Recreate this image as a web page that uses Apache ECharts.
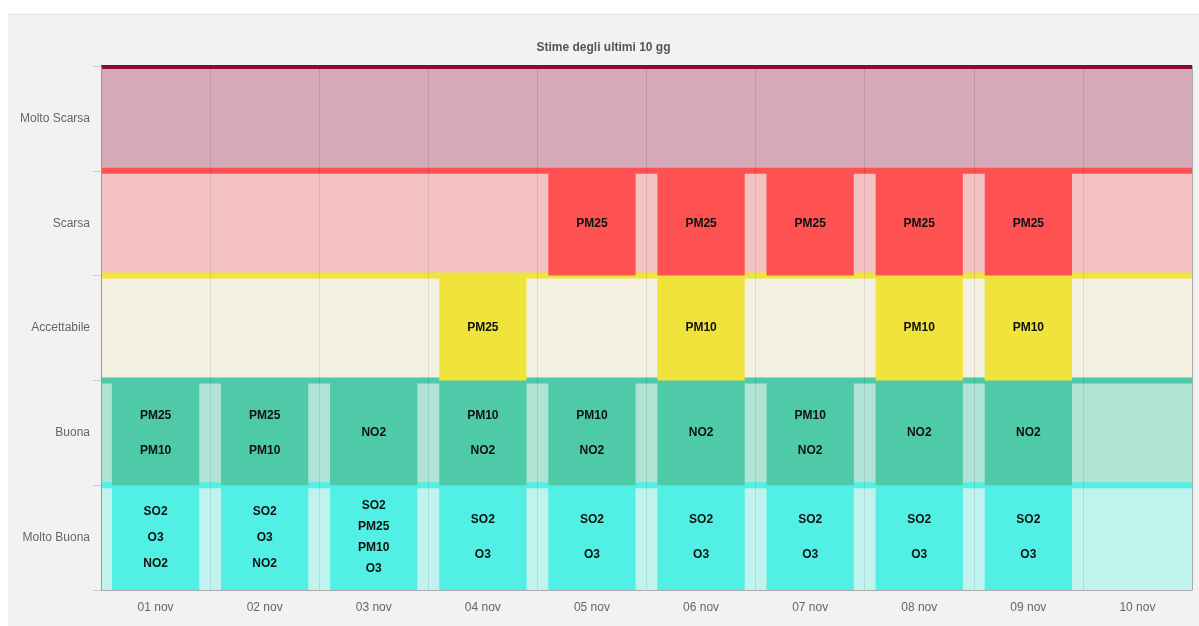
<!DOCTYPE html>
<html>
<head>
<meta charset="utf-8">
<title>Stime degli ultimi 10 gg</title>
<script src="https://cdn.jsdelivr.net/npm/echarts@6/dist/echarts.min.js"></script>
<style>
  html, body { margin: 0; padding: 0; background: #fff; }
  #panel {
    position: absolute; left: 8px; top: 14px;
    width: 1191px; height: 612px;
    background: #f2f2f2; border-top: 1px solid #e4e4e4;
  }
  #chart { width: 1191px; height: 611px; }
</style>
</head>
<body>
<div id="panel"><div id="chart"></div></div>
<script>
var days = ['01 nov', '02 nov', '03 nov', '04 nov', '05 nov', '06 nov', '07 nov', '08 nov', '09 nov', '10 nov'];
var levels = ['Molto Buona', 'Buona', 'Accettabile', 'Scarsa', 'Molto Scarsa'];

// pollutants falling in each level, one list per day (empty = none)
var moltoBuona = [['SO2', 'O3', 'NO2'], ['SO2', 'O3', 'NO2'], ['SO2', 'PM25', 'PM10', 'O3'], ['SO2', 'O3'], ['SO2', 'O3'],
                  ['SO2', 'O3'], ['SO2', 'O3'], ['SO2', 'O3'], ['SO2', 'O3'], []];
var buona = [['PM25', 'PM10'], ['PM25', 'PM10'], ['NO2'], ['PM10', 'NO2'], ['PM10', 'NO2'],
             ['NO2'], ['PM10', 'NO2'], ['NO2'], ['NO2'], []];
var accettabile = [[], [], [], ['PM25'], [], ['PM10'], [], ['PM10'], ['PM10'], []];
var scarsa = [[], [], [], [], ['PM25'], ['PM25'], ['PM25'], ['PM25'], ['PM25'], []];
var moltoScarsa = [[], [], [], [], [], [], [], [], [], []];

var strong = ['#52f0e4', '#4fcaa8', '#efe33c', '#fe5252', '#8c0a3a'];
var light = ['#c0f2ee', '#b0e3d4', '#f3f0e2', '#f4c2c3', '#d5a9b7'];

var byLevel = [moltoBuona, buona, accettabile, scarsa, moltoScarsa];
var cells = [];
byLevel.forEach(function (arr, lv) {
  arr.forEach(function (list, d) {
    if (list.length) cells.push({ value: [d, lv], names: list });
  });
});

// draw from the top level down so each band's line sits over the band above
var bands = levels.map(function (l, i) { return [0, levels.length - 1 - i]; });

function renderBand(params, api) {
  var lv = api.value(1);
  var c = api.coord([0, lv]);
  var h = api.size([0, 1])[1];
  var cs = params.coordSys;
  var top = c[1] - h / 2;
  var lineTop = Math.max(top - 3, cs.y - 1);
  return {
    type: 'group',
    children: [
      { type: 'rect', shape: { x: cs.x, y: top, width: cs.width, height: h }, style: { fill: light[lv] } },
      { type: 'rect', shape: { x: cs.x, y: lineTop, width: cs.width, height: top + 3 - lineTop }, style: { fill: strong[lv] } }
    ]
  };
}

function renderCell(params, api) {
  var d = api.value(0), lv = api.value(1);
  var c = api.coord([d, lv]);
  var s = api.size([1, 1]);
  var w = s[0] * 0.8, h = s[1];
  var top = c[1] - h / 2;
  var names = cells[params.dataIndex].names;
  var children = [
    { type: 'rect', shape: { x: c[0] - w / 2, y: top, width: w, height: h }, style: { fill: strong[lv] } }
  ];
  names.forEach(function (n, i) {
    children.push({
      type: 'text',
      style: {
        text: n, x: c[0], y: top + (i + 1) * h / (names.length + 1),
        align: 'center', verticalAlign: 'middle', fill: '#111',
        font: 'bold 12px Arial, "Liberation Sans", sans-serif'
      }
    });
  });
  return { type: 'group', children: children };
}

var chart = echarts.init(document.getElementById('chart'));
chart.setOption({
  animation: false,
  backgroundColor: 'transparent',
  textStyle: { fontFamily: 'Arial, "Liberation Sans", sans-serif' },
  title: {
    text: 'Stime degli ultimi 10 gg',
    left: 'center',
    top: 22,
    textStyle: { fontSize: 12, fontWeight: 'bold', color: '#555' }
  },
  grid: { left: 93, right: 7, top: 51, bottom: 36 },
  xAxis: {
    type: 'category',
    data: days,
    boundaryGap: true,
    z: 2,
    axisLine: { lineStyle: { color: '#aaa' } },
    axisTick: { length: 8, lineStyle: { color: '#bbb' } },
    axisLabel: { color: '#666', fontSize: 12, margin: 12 },
    splitLine: { show: true, lineStyle: { color: 'rgba(0,0,0,0.09)' } }
  },
  yAxis: [{
    type: 'category',
    data: levels,
    boundaryGap: true,
    z: 4,
    axisLine: { show: true, lineStyle: { color: '#999' } },
    axisTick: { show: true, length: 8, lineStyle: { color: '#ccc' } },
    axisLabel: { color: '#666', fontSize: 12, margin: 11 },
    splitLine: { show: false }
  }, {
    type: 'category',
    data: levels,
    position: 'right',
    z: 4,
    axisLine: { show: true, lineStyle: { color: '#aaa' } },
    axisTick: { show: false },
    axisLabel: { show: false },
    splitLine: { show: false }
  }],
  series: [{
    type: 'custom',
    z: 1,
    silent: true,
    renderItem: renderBand,
    data: bands
  }, {
    type: 'custom',
    z: 3,
    renderItem: renderCell,
    data: cells
  }]
});
</script>
</body>
</html>
